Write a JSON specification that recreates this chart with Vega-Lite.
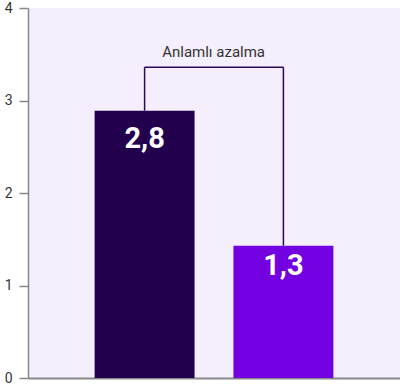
{
  "$schema": "https://vega.github.io/schema/vega-lite/v6.json",
  "autosize": {"type": "fit", "contains": "padding"},
  "width": 400,
  "height": 387,
  "padding": {"left": 4, "top": 1, "right": 0, "bottom": 2},
  "background": "white",
  "config": {
    "view": {"fill": "#F5EEFC", "stroke": null},
    "font": "Roboto"
  },
  "datasets": {
    "bars": [
      {"group": "A", "value": 2.89, "label": "2,8", "labelPos": 2.58, "color": "#22004D"},
      {"group": "B", "value": 1.43, "label": "1,3", "labelPos": 1.21, "color": "#7300E0"}
    ],
    "bracketV": [
      {"group": "A", "from": 2.89, "to": 3.36},
      {"group": "B", "from": 1.43, "to": 3.36}
    ],
    "bracketH": [
      {"start": "A", "end": "B", "level": 3.36, "text": "Anlamlı azalma", "textLevel": 3.44}
    ]
  },
  "layer": [
    {
      "data": {"name": "bars"},
      "mark": {"type": "bar"},
      "encoding": {
        "x": {
          "field": "group", "type": "nominal",
          "scale": {"domain": ["A", "B"], "paddingInner": 0.28, "paddingOuter": 0.48},
          "axis": {"title": null, "labels": false, "ticks": false, "domain": true, "domainColor": "#888888", "domainWidth": 2, "grid": false, "labelPadding": 0, "tickSize": 0}
        },
        "y": {
          "field": "value", "type": "quantitative",
          "scale": {"domain": [0, 4], "nice": false},
          "axis": {"title": null, "values": [0, 1, 2, 3, 4], "format": "d", "grid": false, "domainColor": "#888888", "domainWidth": 1.5, "tickColor": "#888888", "tickSize": 9, "tickWidth": 1.5, "labelFontSize": 14, "labelColor": "#333333", "labelPadding": 7, "labelFont": "Roboto"}
        },
        "color": {"field": "color", "type": "nominal", "scale": null}
      }
    },
    {
      "data": {"name": "bars"},
      "mark": {"type": "text", "color": "white", "fontSize": 29, "fontWeight": "bold", "font": "Roboto", "baseline": "middle"},
      "encoding": {
        "x": {"field": "group", "type": "nominal"},
        "y": {"field": "labelPos", "type": "quantitative"},
        "text": {"field": "label"}
      }
    },
    {
      "data": {"name": "bracketV"},
      "mark": {"type": "rule", "color": "#2B0A55", "strokeWidth": 1.5},
      "encoding": {
        "x": {"field": "group", "type": "nominal"},
        "y": {"field": "from", "type": "quantitative"},
        "y2": {"field": "to"}
      }
    },
    {
      "data": {"name": "bracketH"},
      "mark": {"type": "rule", "color": "#2B0A55", "strokeWidth": 1.5},
      "encoding": {
        "x": {"field": "start", "type": "nominal"},
        "x2": {"field": "end"},
        "y": {"field": "level", "type": "quantitative"}
      }
    },
    {
      "data": {"name": "bracketH"},
      "mark": {"type": "text", "fontSize": 15, "color": "#333333", "font": "Roboto", "baseline": "bottom", "align": "center", "dx": 69},
      "encoding": {
        "x": {"field": "start", "type": "nominal"},
        "y": {"field": "textLevel", "type": "quantitative"},
        "text": {"field": "text"}
      }
    }
  ]
}
